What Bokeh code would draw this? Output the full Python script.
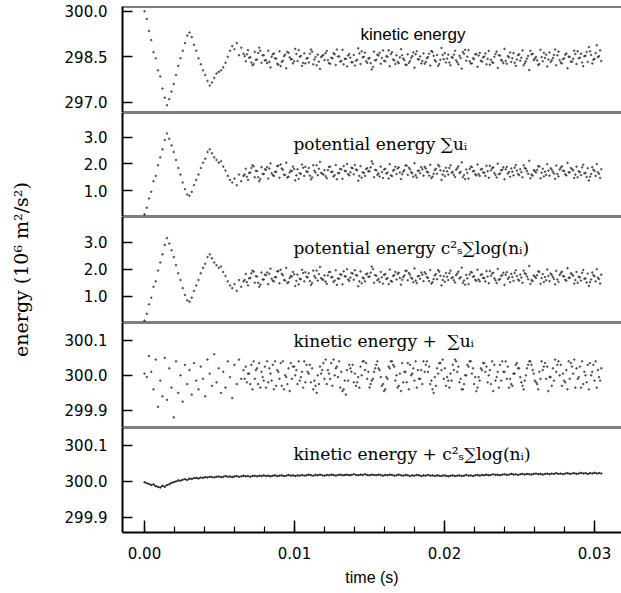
import math
from bokeh.plotting import figure
from bokeh.layouts import column, row
from bokeh.models import Range1d, FixedTicker, Span, Label, NumeralTickFormatter, SingleIntervalTicker
from bokeh.embed import file_html
from bokeh.resources import INLINE

# ---------------- data ----------------
time_ms = [
    0.00, 0.15, 0.30, 0.45, 0.60, 0.75, 0.90, 1.05, 1.20, 1.35,
    1.50, 1.65, 1.80, 1.95, 2.10, 2.25, 2.40, 2.55, 2.70, 2.85,
    3.00, 3.15, 3.30, 3.45, 3.60, 3.75, 3.90, 4.05, 4.20, 4.35,
    4.50, 4.65, 4.80, 4.95, 5.10, 5.25, 5.40, 5.55, 5.70, 5.85,
    6.00, 6.15, 6.30, 6.45, 6.60, 6.75, 6.90, 7.05, 7.20, 7.35,
    7.50, 7.65, 7.80, 7.95, 8.10, 8.25, 8.40, 8.55, 8.70, 8.85,
    9.00, 9.15, 9.30, 9.45, 9.60, 9.75, 9.90, 10.05, 10.20, 10.35,
    10.50, 10.65, 10.80, 10.95, 11.10, 11.25, 11.40, 11.55, 11.70, 11.85,
    12.00, 12.15, 12.30, 12.45, 12.60, 12.75, 12.90, 13.05, 13.20, 13.35,
    13.50, 13.65, 13.80, 13.95, 14.10, 14.25, 14.40, 14.55, 14.70, 14.85,
    15.00, 15.15, 15.30, 15.45, 15.60, 15.75, 15.90, 16.05, 16.20, 16.35,
    16.50, 16.65, 16.80, 16.95, 17.10, 17.25, 17.40, 17.55, 17.70, 17.85,
    18.00, 18.15, 18.30, 18.45, 18.60, 18.75, 18.90, 19.05, 19.20, 19.35,
    19.50, 19.65, 19.80, 19.95, 20.10, 20.25, 20.40, 20.55, 20.70, 20.85,
    21.00, 21.15, 21.30, 21.45, 21.60, 21.75, 21.90, 22.05, 22.20, 22.35,
    22.50, 22.65, 22.80, 22.95, 23.10, 23.25, 23.40, 23.55, 23.70, 23.85,
    24.00, 24.15, 24.30, 24.45, 24.60, 24.75, 24.90, 25.05, 25.20, 25.35,
    25.50, 25.65, 25.80, 25.95, 26.10, 26.25, 26.40, 26.55, 26.70, 26.85,
    27.00, 27.15, 27.30, 27.45, 27.60, 27.75, 27.90, 28.05, 28.20, 28.35,
    28.50, 28.65, 28.80, 28.95, 29.10, 29.25, 29.40, 29.55, 29.70, 29.85,
    30.00, 30.15, 30.30, 30.45,
]

# second set of samples in the steady part (between the first ones)
time_b_ms = [
    6.675, 6.825, 6.975, 7.125, 7.275, 7.425, 7.575, 7.725, 7.875, 8.025,
    8.175, 8.325, 8.475, 8.625, 8.775, 8.925, 9.075, 9.225, 9.375, 9.525,
    9.675, 9.825, 9.975, 10.125, 10.275, 10.425, 10.575, 10.725, 10.875, 11.025,
    11.175, 11.325, 11.475, 11.625, 11.775, 11.925, 12.075, 12.225, 12.375, 12.525,
    12.675, 12.825, 12.975, 13.125, 13.275, 13.425, 13.575, 13.725, 13.875, 14.025,
    14.175, 14.325, 14.475, 14.625, 14.775, 14.925, 15.075, 15.225, 15.375, 15.525,
    15.675, 15.825, 15.975, 16.125, 16.275, 16.425, 16.575, 16.725, 16.875, 17.025,
    17.175, 17.325, 17.475, 17.625, 17.775, 17.925, 18.075, 18.225, 18.375, 18.525,
    18.675, 18.825, 18.975, 19.125, 19.275, 19.425, 19.575, 19.725, 19.875, 20.025,
    20.175, 20.325, 20.475, 20.625, 20.775, 20.925, 21.075, 21.225, 21.375, 21.525,
    21.675, 21.825, 21.975, 22.125, 22.275, 22.425, 22.575, 22.725, 22.875, 23.025,
    23.175, 23.325, 23.475, 23.625, 23.775, 23.925, 24.075, 24.225, 24.375, 24.525,
    24.675, 24.825, 24.975, 25.125, 25.275, 25.425, 25.575, 25.725, 25.875, 26.025,
    26.175, 26.325, 26.475, 26.625, 26.775, 26.925, 27.075, 27.225, 27.375, 27.525,
    27.675, 27.825, 27.975, 28.125, 28.275, 28.425, 28.575, 28.725, 28.875, 29.025,
    29.175, 29.325, 29.475, 29.625, 29.775, 29.925, 30.075, 30.225, 30.375,
]

kinetic = [
    300.00, 299.75, 299.35, 299.05, 298.65, 298.45, 298.05, 297.85, 297.45, 297.15,
    296.90, 297.10, 297.35, 297.60, 297.90, 298.20, 298.45, 298.70, 298.95, 299.20,
    299.30, 299.15, 298.90, 298.70, 298.45, 298.25, 298.05, 297.90, 297.70, 297.55,
    297.65, 297.80, 297.95, 298.00, 298.05, 298.15, 298.30, 298.50, 298.70, 298.85,
    298.75, 298.95, 298.55, 298.80, 298.60, 298.35, 298.72, 298.48, 298.22, 298.66,
    298.41, 298.80, 298.30, 298.55, 298.38, 298.70, 298.15, 298.58, 298.45, 298.27,
    298.68, 298.33, 298.52, 298.12, 298.63, 298.42, 298.28, 298.76, 298.36, 298.50,
    298.20, 298.61, 298.44, 298.31, 298.74, 298.25, 298.49, 298.57, 298.10, 298.53,
    298.39, 298.69, 298.29, 298.47, 298.62, 298.23, 298.51, 298.34, 298.73, 298.43,
    298.18, 298.59, 298.32, 298.56, 298.37, 298.78, 298.26, 298.48, 298.64, 298.30,
    298.46, 298.08, 298.67, 298.40, 298.54, 298.27, 298.71, 298.35, 298.50, 298.19,
    298.65, 298.38, 298.55, 298.29, 298.75, 298.44, 298.24, 298.58, 298.36, 298.52,
    298.14, 298.68, 298.41, 298.28, 298.61, 298.33, 298.49, 298.21, 298.66, 298.39,
    298.56, 298.26, 298.79, 298.42, 298.31, 298.57, 298.22, 298.47, 298.70, 298.32,
    298.53, 298.11, 298.60, 298.37, 298.72, 298.28, 298.45, 298.58, 298.17, 298.63,
    298.34, 298.51, 298.25, 298.69, 298.40, 298.30, 298.59, 298.13, 298.54, 298.36,
    298.76, 298.27, 298.48, 298.33, 298.62, 298.20, 298.55, 298.37, 298.71, 298.29,
    298.44, 298.06, 298.58, 298.39, 298.49, 298.23, 298.73, 298.35, 298.46, 298.18,
    298.64, 298.38, 298.56, 298.22, 298.67, 298.31, 298.42, 298.57, 298.12, 298.50,
    298.34, 298.70, 298.26, 298.45, 298.60, 298.19, 298.53, 298.33, 298.68, 298.28,
    298.43, 298.88, 298.52, 298.36,
]

kinetic_b = [
    298.52, 298.58, 298.47, 298.31, 298.26, 298.40, 298.63, 298.70, 298.55, 298.38,
    298.29, 298.33, 298.50, 298.61, 298.44, 298.24, 298.19, 298.37, 298.57, 298.66,
    298.48, 298.42, 298.35, 298.59, 298.72, 298.53, 298.30, 298.28, 298.46, 298.60,
    298.67, 298.41, 298.22, 298.34, 298.49, 298.56, 298.62, 298.39, 298.27, 298.45,
    298.58, 298.74, 298.51, 298.36, 298.25, 298.43, 298.54, 298.47, 298.32, 298.21,
    298.40, 298.61, 298.68, 298.50, 298.35, 298.44, 298.29, 298.16, 298.38, 298.57,
    298.63, 298.46, 298.37, 298.52, 298.71, 298.59, 298.41, 298.26, 298.33, 298.48,
    298.55, 298.39, 298.23, 298.30, 298.47, 298.64, 298.58, 298.42, 298.51, 298.36,
    298.27, 298.45, 298.60, 298.69, 298.53, 298.34, 298.20, 298.40, 298.56, 298.62,
    298.44, 298.31, 298.49, 298.57, 298.38, 298.25, 298.46, 298.66, 298.73, 298.50,
    298.35, 298.28, 298.42, 298.59, 298.54, 298.37, 298.48, 298.61, 298.43, 298.24,
    298.32, 298.50, 298.67, 298.55, 298.40, 298.29, 298.36, 298.52, 298.64, 298.45,
    298.30, 298.41, 298.58, 298.47, 298.22, 298.35, 298.53, 298.70, 298.60, 298.44,
    298.38, 298.26, 298.49, 298.63, 298.57, 298.41, 298.33, 298.46, 298.74, 298.55,
    298.39, 298.28, 298.45, 298.61, 298.50, 298.34, 298.43, 298.59, 298.68, 298.47,
    298.31, 298.52, 298.66, 298.82, 298.56, 298.40, 298.62, 298.49, 298.71,
]

potential_sum_u = [
    0.10, 0.35, 0.70, 0.95, 1.35, 1.55, 1.95, 2.25, 2.55, 2.90,
    3.15, 2.95, 2.70, 2.45, 2.15, 1.85, 1.60, 1.30, 1.05, 0.85,
    0.80, 0.95, 1.20, 1.40, 1.60, 1.85, 2.05, 2.20, 2.45, 2.55,
    2.40, 2.25, 2.15, 2.05, 2.10, 1.90, 1.75, 1.55, 1.40, 1.30,
    1.45, 1.20, 1.60, 1.35, 1.55, 1.82, 1.40, 1.68, 1.95, 1.50,
    1.73, 1.35, 1.88, 1.62, 1.78, 1.45, 2.02, 1.58, 1.70, 1.92,
    1.48, 1.83, 1.60, 2.05, 1.52, 1.75, 1.90, 1.38, 1.80, 1.65,
    1.98, 1.55, 1.72, 1.85, 1.42, 1.95, 1.68, 1.58, 2.08, 1.63,
    1.77, 1.46, 1.89, 1.70, 1.53, 1.96, 1.66, 1.81, 1.44, 1.74,
    2.00, 1.57, 1.86, 1.61, 1.79, 1.37, 1.92, 1.69, 1.55, 1.84,
    1.73, 2.10, 1.50, 1.76, 1.64, 1.90, 1.47, 1.82, 1.67, 1.99,
    1.54, 1.78, 1.62, 1.87, 1.43, 1.71, 1.94, 1.59, 1.80, 1.65,
    2.03, 1.49, 1.75, 1.88, 1.56, 1.83, 1.68, 1.97, 1.52, 1.77,
    1.63, 1.91, 1.40, 1.74, 1.86, 1.60, 1.95, 1.70, 1.51, 1.84,
    1.66, 2.06, 1.58, 1.79, 1.45, 1.90, 1.72, 1.61, 1.98, 1.55,
    1.81, 1.67, 1.93, 1.48, 1.76, 1.87, 1.59, 2.01, 1.64, 1.78,
    1.42, 1.89, 1.70, 1.83, 1.57, 1.96, 1.62, 1.80, 1.50, 1.85,
    1.73, 2.12, 1.60, 1.77, 1.68, 1.92, 1.46, 1.82, 1.71, 1.99,
    1.56, 1.79, 1.64, 1.94, 1.53, 1.86, 1.75, 1.61, 2.04, 1.69,
    1.81, 1.47, 1.90, 1.72, 1.58, 1.97, 1.66, 1.84, 1.52, 1.88,
    1.74, 2.00, 1.63, 1.80,
]

potential_sum_u_b = [
    1.60, 1.52, 1.66, 1.85, 1.91, 1.74, 1.50, 1.43, 1.62, 1.80,
    1.88, 1.83, 1.65, 1.55, 1.71, 1.93, 1.98, 1.78, 1.58, 1.49,
    1.68, 1.73, 1.81, 1.57, 1.44, 1.63, 1.86, 1.89, 1.70, 1.56,
    1.49, 1.75, 1.95, 1.82, 1.67, 1.60, 1.54, 1.77, 1.90, 1.71,
    1.58, 1.42, 1.65, 1.80, 1.92, 1.73, 1.62, 1.69, 1.84, 1.96,
    1.76, 1.55, 1.48, 1.66, 1.81, 1.72, 1.87, 2.01, 1.78, 1.59,
    1.53, 1.70, 1.79, 1.64, 1.45, 1.57, 1.75, 1.90, 1.83, 1.68,
    1.61, 1.77, 1.94, 1.86, 1.69, 1.52, 1.58, 1.74, 1.65, 1.80,
    1.89, 1.71, 1.56, 1.47, 1.63, 1.82, 1.97, 1.76, 1.60, 1.54,
    1.72, 1.85, 1.67, 1.59, 1.78, 1.91, 1.70, 1.50, 1.43, 1.66,
    1.81, 1.88, 1.74, 1.57, 1.62, 1.79, 1.68, 1.55, 1.73, 1.93,
    1.84, 1.66, 1.49, 1.61, 1.76, 1.87, 1.80, 1.64, 1.52, 1.71,
    1.86, 1.75, 1.58, 1.69, 1.95, 1.82, 1.63, 1.46, 1.56, 1.73,
    1.78, 1.90, 1.67, 1.53, 1.59, 1.75, 1.84, 1.71, 1.44, 1.62,
    1.79, 1.91, 1.73, 1.57, 1.68, 1.85, 1.76, 1.60, 1.50, 1.70,
    1.87, 1.65, 1.51, 1.38, 1.62, 1.78, 1.55, 1.69, 1.47,
]

# the two potential-energy panels look identical in the picture
potential_log_n = potential_sum_u
potential_log_n_b = potential_sum_u_b

total_sum_u = [
    300.005, 299.995, 300.055, 300.010, 299.960, 300.045, 299.910, 299.985, 299.940, 300.050,
    299.930, 300.020, 299.965, 299.880, 300.040, 299.950, 300.000, 299.925, 300.030, 299.975,
    300.015, 299.945, 300.035, 299.985, 299.960, 300.025, 299.990, 299.940, 300.045, 300.005,
    299.970, 300.060, 299.980, 300.020, 299.950, 300.010, 299.965, 300.040, 299.995, 299.935,
    300.030, 299.975, 300.045, 299.990, 300.015, 300.025, 300.005, 299.975, 299.960, 299.990,
    300.020, 300.035, 300.010, 299.985, 299.965, 299.980, 300.005, 300.030, 300.040, 300.015,
    299.990, 299.970, 299.960, 299.995, 300.020, 300.035, 300.025, 300.000, 299.975, 299.985,
    300.010, 300.040, 300.030, 300.005, 299.980, 299.960, 299.970, 300.000, 300.025, 300.015,
    299.990, 299.975, 300.005, 300.035, 300.045, 300.020, 299.995, 299.965, 299.955, 299.985,
    300.015, 300.030, 300.010, 299.980, 299.970, 299.995, 300.025, 300.040, 300.015, 299.990,
    299.965, 299.985, 300.010, 300.030, 300.020, 299.995, 299.975, 299.960, 299.990, 300.020,
    300.040, 300.025, 300.000, 299.970, 299.955, 299.980, 300.010, 300.035, 300.030, 300.005,
    299.985, 299.965, 299.990, 300.015, 300.040, 300.030, 300.010, 299.975, 299.960, 299.995,
    300.020, 300.035, 300.015, 299.990, 299.970, 299.985, 300.005, 300.030, 300.045, 300.010,
    299.980, 299.960, 299.975, 300.000, 300.025, 300.040, 300.020, 299.995, 299.965, 299.985,
    300.015, 300.035, 300.025, 300.000, 299.975, 299.955, 299.985, 300.010, 300.030, 300.040,
    300.010, 299.990, 299.965, 299.975, 300.005, 300.030, 300.020, 299.995, 299.970, 299.985,
    300.020, 300.040, 300.030, 300.005, 299.980, 299.960, 299.990, 300.015, 300.035, 300.025,
    299.995, 299.970, 299.985, 300.010, 300.040, 300.030, 300.005, 299.980, 299.960, 299.990,
    300.025, 300.045, 300.020, 299.995, 299.965, 299.975, 300.000, 300.030, 300.035, 300.010,
    299.985, 299.965, 299.995, 300.020,
]

total_sum_u_b = [
    299.990, 299.980, 300.005, 300.030, 300.040, 300.015, 299.975, 299.965, 299.995, 300.025,
    300.040, 300.020, 299.985, 299.960, 299.970, 300.010, 300.035, 300.040, 300.000, 299.975,
    299.955, 299.990, 300.025, 300.015, 300.040, 299.995, 299.965, 299.980, 300.010, 300.030,
    300.020, 299.985, 299.950, 299.975, 300.005, 300.035, 300.045, 300.015, 299.990, 299.970,
    300.000, 300.025, 300.040, 300.010, 299.960, 299.945, 299.985, 300.020, 300.030, 300.005,
    299.980, 299.965, 300.000, 300.040, 300.035, 300.010, 299.975, 299.990, 300.020, 300.040,
    300.015, 299.970, 299.955, 299.995, 300.025, 300.040, 300.030, 299.985, 299.965, 300.005,
    300.035, 300.010, 299.980, 299.960, 300.000, 300.020, 300.040, 300.015, 299.990, 299.975,
    300.010, 300.040, 300.025, 299.985, 299.950, 299.970, 300.005, 300.035, 300.045, 300.020,
    299.995, 299.965, 299.985, 300.015, 300.040, 300.025, 299.990, 299.960, 300.000, 300.030,
    300.040, 300.005, 299.975, 299.955, 299.995, 300.020, 300.035, 300.010, 299.980, 300.015,
    300.040, 300.030, 299.995, 299.965, 299.985, 300.010, 300.040, 300.025, 299.990, 299.970,
    300.005, 300.035, 300.020, 299.980, 299.960, 300.000, 300.030, 300.040, 300.015, 299.985,
    299.975, 300.010, 300.040, 300.025, 299.990, 299.955, 299.995, 300.020, 300.045, 300.030,
    300.000, 299.970, 299.985, 300.015, 300.040, 300.035, 300.005, 299.965, 299.990, 300.025,
    300.040, 300.010, 299.980, 299.960, 300.000, 300.030, 300.040, 300.015, 299.985,
]

total_log_n = [
    299.998, 299.995, 299.993, 299.990, 299.992, 299.987, 299.985, 299.983, 299.988, 299.985,
    299.990, 299.992, 299.996, 299.998, 300.000, 300.003, 300.002, 300.005, 300.006, 300.004,
    300.008, 300.007, 300.009, 300.010, 300.008, 300.011, 300.010, 300.012, 300.011, 300.013,
    300.012, 300.011, 300.013, 300.014, 300.012, 300.013, 300.015, 300.013, 300.014, 300.012,
    300.014, 300.015, 300.013, 300.014, 300.016, 300.014, 300.015, 300.013, 300.015, 300.016,
    300.014, 300.016, 300.015, 300.017, 300.015, 300.016, 300.014, 300.016, 300.017, 300.015,
    300.016, 300.017, 300.015, 300.016, 300.018, 300.016, 300.017, 300.015, 300.017, 300.016,
    300.018, 300.016, 300.017, 300.019, 300.017, 300.016, 300.018, 300.017, 300.019, 300.017,
    300.016, 300.018, 300.017, 300.019, 300.018, 300.016, 300.018, 300.019, 300.017, 300.018,
    300.019, 300.017, 300.018, 300.020, 300.018, 300.017, 300.019, 300.018, 300.020, 300.018,
    300.017, 300.019, 300.018, 300.017, 300.019, 300.018, 300.016, 300.018, 300.017, 300.019,
    300.018, 300.016, 300.017, 300.019, 300.017, 300.016, 300.018, 300.017, 300.015, 300.017,
    300.016, 300.018, 300.017, 300.015, 300.017, 300.016, 300.018, 300.016, 300.017, 300.015,
    300.017, 300.016, 300.015, 300.017, 300.016, 300.014, 300.016, 300.017, 300.015, 300.016,
    300.017, 300.015, 300.016, 300.018, 300.016, 300.017, 300.015, 300.017, 300.018, 300.016,
    300.018, 300.017, 300.019, 300.017, 300.018, 300.020, 300.018, 300.019, 300.017, 300.019,
    300.020, 300.018, 300.019, 300.021, 300.019, 300.020, 300.018, 300.020, 300.021, 300.019,
    300.021, 300.020, 300.019, 300.021, 300.022, 300.020, 300.021, 300.019, 300.021, 300.022,
    300.020, 300.022, 300.021, 300.023, 300.021, 300.022, 300.020, 300.022, 300.023, 300.021,
    300.022, 300.023, 300.021, 300.022, 300.024, 300.022, 300.023, 300.021, 300.023, 300.022,
    300.024, 300.022, 300.023, 300.022,
]

panel_titles = [
    "kinetic energy",
    "potential energy \u2211u\u1d62",
    "potential energy c\u00b2\u209b\u2211log(n\u1d62)",
    "kinetic energy + \u00a0\u2211u\u1d62",
    "kinetic energy + c\u00b2\u209b\u2211log(n\u1d62)",
]
y_ticks = [
    [297.0, 298.5, 300.0],
    [1.0, 2.0, 3.0],
    [1.0, 2.0, 3.0],
    [299.9, 300.0, 300.1],
    [299.9, 300.0, 300.1],
]
y_limits = [
    (296.66, 300.16),
    (0.02, 3.94),
    (0.03, 3.95),
    (299.851, 300.151),
    (299.858, 300.150),
]
x_axis_title = "time (s)"
y_axis_title = "energy (10\u2076 m\u00b2/s\u00b2)"

# ---------------- plotting ----------------
time_s = [v / 1000.0 for v in time_ms]
time_b_s = [v / 1000.0 for v in time_b_ms]
x_range = Range1d(-0.001467, 0.0318)

SANS = "Liberation Sans"
TICK_FONT = "DejaVu Sans"
SERIF = "DejaVu Serif"
INK = "#333333"

series_a = [kinetic, potential_sum_u, potential_log_n, total_sum_u, total_log_n]
series_b = [kinetic_b, potential_sum_u_b, potential_log_n_b, total_sum_u_b, None]
frame_heights = [106, 104, 106, 105, 105]
title_pos = [  # (x in s, y in data units) of each panel caption
    (0.0144, 299.22),
    (0.00993, 2.77),
    (0.00993, 2.78),
    (0.00993, 300.098),
    (0.00993, 300.075),
]

figs = []
for k in range(5):
    last = (k == 4)
    p = figure(
        frame_width=499,
        frame_height=frame_heights[k],
        x_range=x_range,
        y_range=Range1d(*y_limits[k]),
        x_axis_location="below" if last else None,
        output_backend="svg",
        toolbar_location=None,
        min_border_left=82,
        min_border_right=0,
        min_border_top=6 if k == 0 else 0,
        min_border_bottom=0,
        background_fill_color="white",
        border_fill_color="white",
    )
    p.outline_line_color = None
    p.grid.visible = False

    ya = p.yaxis[0]
    ya.ticker = FixedTicker(ticks=y_ticks[k])
    ya.formatter = NumeralTickFormatter(format="0.0")
    ya.axis_line_width = 2
    ya.axis_line_color = "black"
    ya.major_tick_in = 10
    ya.major_tick_out = 0
    ya.major_tick_line_width = 1.5
    ya.minor_tick_in = 0
    ya.minor_tick_out = 0
    ya.major_label_text_font = TICK_FONT
    ya.major_label_text_font_size = "15px"
    ya.major_label_text_color = "black"
    ya.major_label_standoff = 15

    if last:
        xa = p.xaxis[0]
        xa.ticker = SingleIntervalTicker(interval=0.01, num_minor_ticks=5)
        xa.formatter = NumeralTickFormatter(format="0.00")
        xa.axis_line_width = 2
        xa.axis_line_color = "black"
        xa.major_tick_in = 12
        xa.major_tick_out = 0
        xa.major_tick_line_width = 1.5
        xa.minor_tick_in = 6
        xa.minor_tick_out = 0
        xa.minor_tick_line_width = 1.2
        xa.major_label_text_font = TICK_FONT
        xa.major_label_text_font_size = "15px"
        xa.major_label_text_color = "black"
        xa.major_label_standoff = 14
        xa.axis_label = x_axis_title
        xa.axis_label_text_font = SANS
        xa.axis_label_text_font_size = "16px"
        xa.axis_label_text_font_style = "normal"
        xa.axis_label_text_color = "black"
        xa.axis_label_standoff = 7

    # panel borders (top and bottom)
    p.add_layout(Span(location=y_limits[k][1], dimension="width",
                      line_color="black", line_width=2))
    if not last:
        p.add_layout(Span(location=y_limits[k][0], dimension="width",
                          line_color="black", line_width=2))

    if last:
        p.line(time_s, series_a[k], line_color=INK, line_width=1.2)
        p.scatter(time_s, series_a[k], size=1.5, color=INK, marker="circle")
    else:
        p.scatter(time_s, series_a[k], size=1.6, color=INK, marker="circle", alpha=0.75)
        p.scatter(time_b_s, series_b[k], size=1.6, color=INK, marker="circle", alpha=0.75)

    p.add_layout(Label(
        x=title_pos[k][0], y=title_pos[k][1], text=panel_titles[k],
        text_font=SANS if k == 0 else SERIF,
        text_font_size="17px",
        text_color="black", text_baseline="middle", text_align="left",
    ))
    figs.append(p)

# narrow strip on the left carrying the shared y-axis title
strip = figure(
    frame_width=40, frame_height=526,
    x_range=Range1d(0, 1), y_range=Range1d(0, 1),
    x_axis_location=None, y_axis_location=None,
    output_backend="svg", toolbar_location=None,
    min_border_left=0, min_border_right=0, min_border_top=6, min_border_bottom=0,
    background_fill_color="white", border_fill_color="white",
)
strip.outline_line_color = None
strip.grid.visible = False
strip.add_layout(Label(
    x=0.5, y=0.5, text=y_axis_title, angle=math.pi / 2,
    text_font=SERIF, text_font_size="19px", text_color="black",
    text_align="center", text_baseline="middle",
))

layout = row(strip, column(*figs, spacing=0), spacing=0)
open("out.html", "w").write(file_html(layout, INLINE))
